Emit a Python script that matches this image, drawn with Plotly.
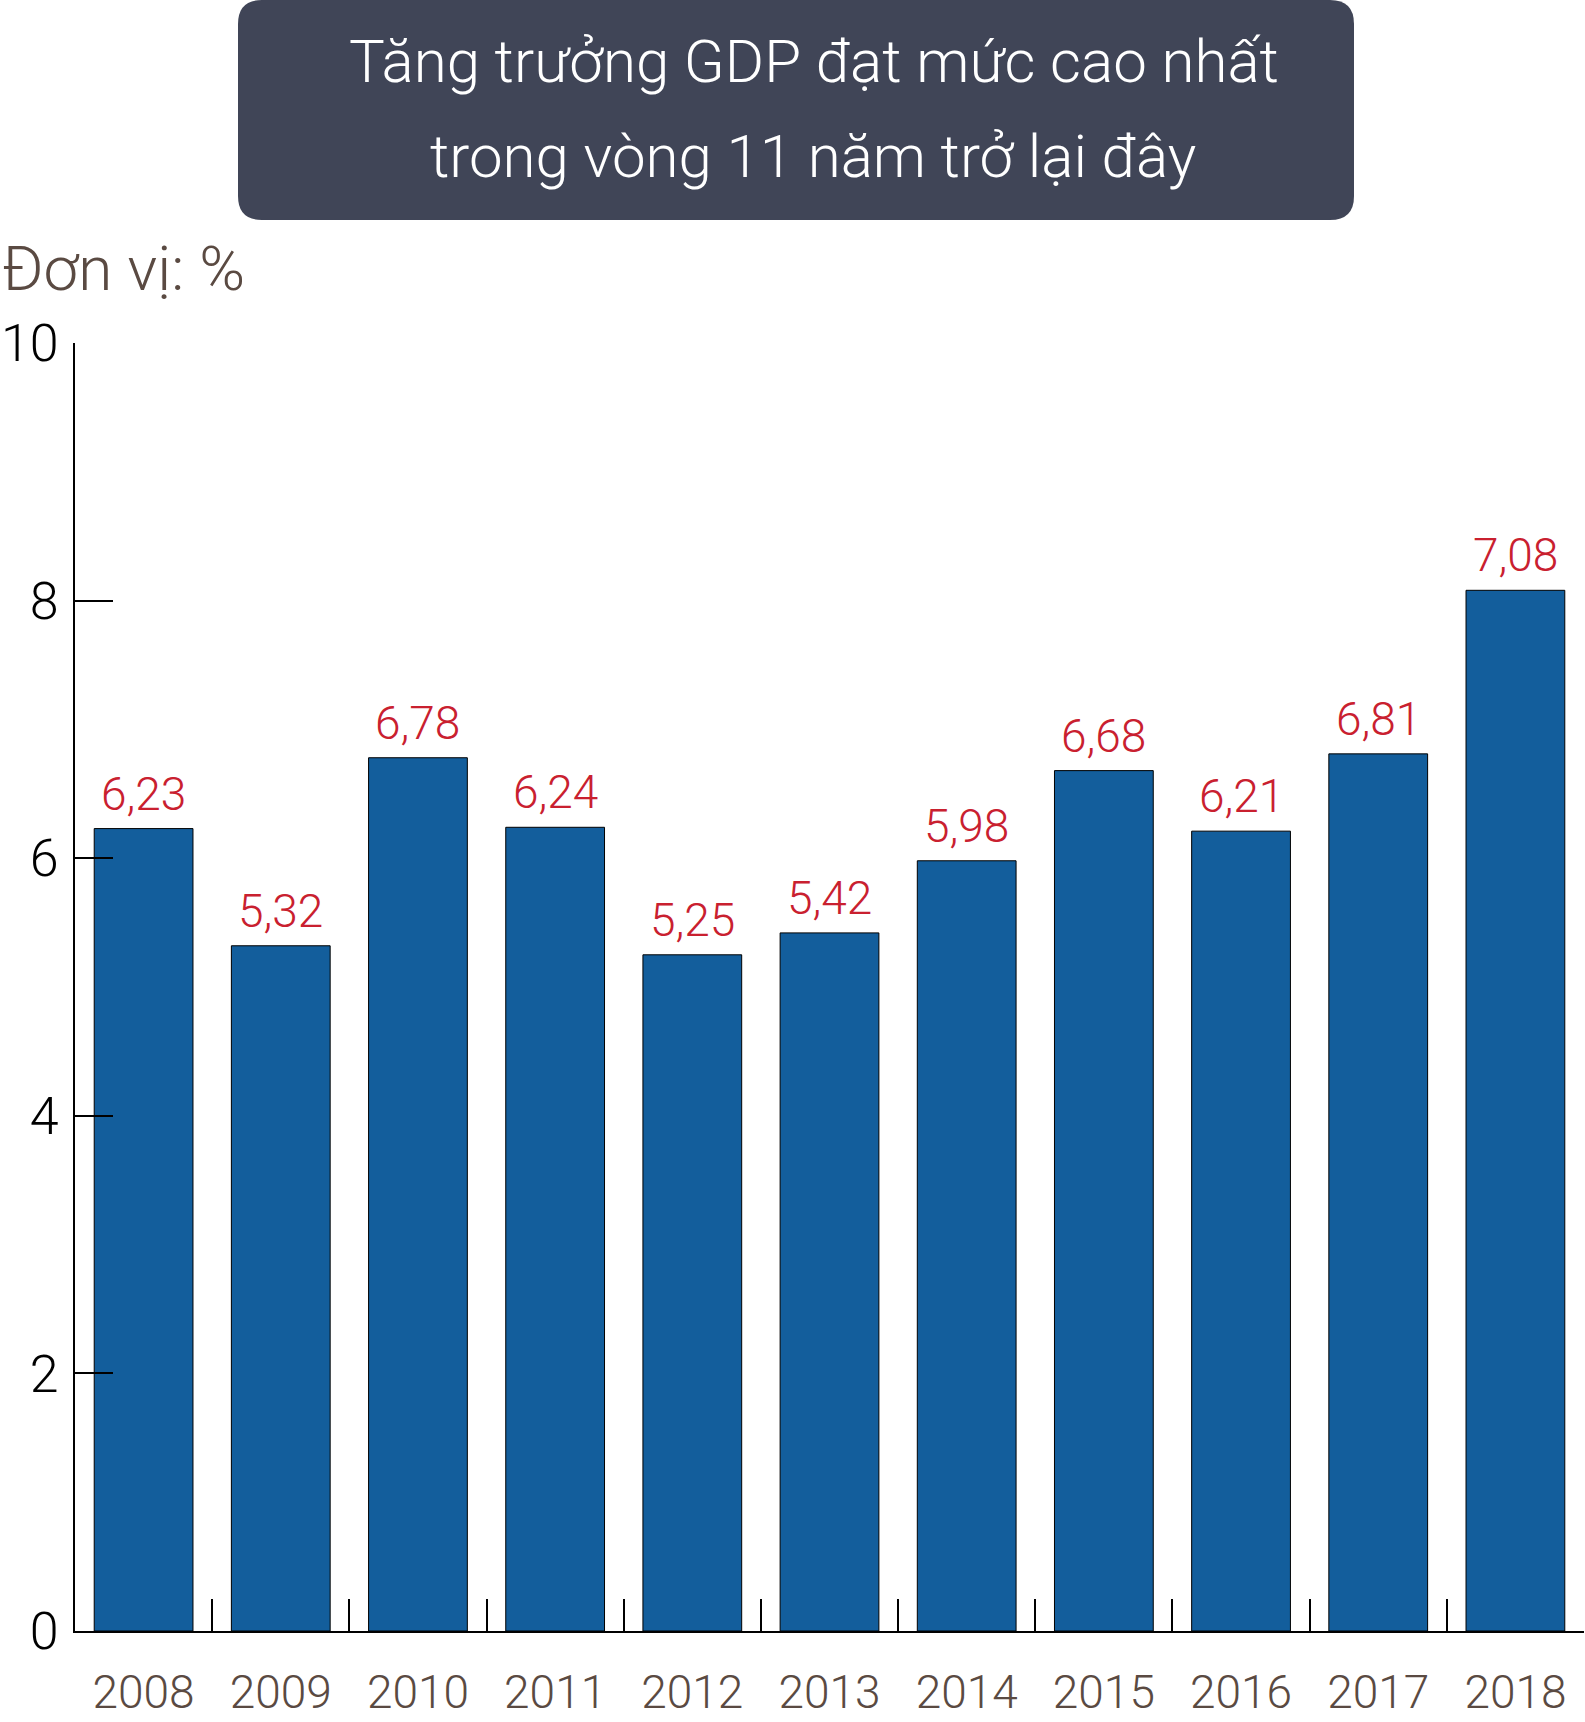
import plotly.graph_objects as go

years = ["2008", "2009", "2010", "2011", "2012", "2013", "2014", "2015", "2016", "2017", "2018"]
bar_heights = [6.23, 5.32, 6.78, 6.24, 5.25, 5.42, 5.98, 6.68, 6.21, 6.81, 8.08]
bar_labels = ["6,23", "5,32", "6,78", "6,24", "5,25", "5,42", "5,98", "6,68", "6,21", "6,81", "7,08"]
y_ticks = [0, 2, 4, 6, 8, 10]

FONT = "Roboto, sans-serif"
W, H = 1585, 1722
L, R, T, B = 75, 1, 343, 91
PW, PH = W - L - R, H - T - B

def px(x):
    return (x - L) / PW

def py(y):
    return (H - B - y) / PH

fig = go.Figure()
fig.add_trace(go.Bar(
    x=years, y=bar_heights,
    marker=dict(color="#135E9C", line=dict(color="#000000", width=1)),
    hoverinfo="skip",
))

for i, (h, lab) in enumerate(zip(bar_heights, bar_labels)):
    fig.add_annotation(x=i, y=h, text=lab, showarrow=False, yanchor="bottom",
                       yshift=6, font=dict(family=FONT, size=46, color="#C9202F", weight=300))

# title box with rounded corners (pixel coords converted to paper)
x0, x1, y0, y1, r = 238, 1354, 0, 220, 24
path = (f"M {px(x0 + r)},{py(y0)} L {px(x1 - r)},{py(y0)} "
        f"Q {px(x1)},{py(y0)} {px(x1)},{py(y0 + r)} L {px(x1)},{py(y1 - r)} "
        f"Q {px(x1)},{py(y1)} {px(x1 - r)},{py(y1)} L {px(x0 + r)},{py(y1)} "
        f"Q {px(x0)},{py(y1)} {px(x0)},{py(y1 - r)} L {px(x0)},{py(y0 + r)} "
        f"Q {px(x0)},{py(y0)} {px(x0 + r)},{py(y0)} Z")
fig.add_shape(type="path", path=path, xref="paper", yref="paper",
              fillcolor="#404557", line=dict(width=0), layer="above")

fig.add_annotation(xref="paper", yref="paper", x=px(814), y=py(62), text="Tăng trưởng GDP đạt mức cao nhất",
                   showarrow=False, xanchor="center", yanchor="middle",
                   font=dict(family=FONT, size=60, color="#FFFFFF", weight=300))
fig.add_annotation(xref="paper", yref="paper", x=px(813), y=py(156), text="trong vòng 11 năm trở lại đây",
                   showarrow=False, xanchor="center", yanchor="middle",
                   font=dict(family=FONT, size=60, color="#FFFFFF", weight=300))
fig.add_annotation(xref="paper", yref="paper", x=px(0), y=py(268), text="Đơn vị: %",
                   showarrow=False, xanchor="left", yanchor="middle",
                   font=dict(family=FONT, size=62, color="#5A4A42", weight=300))

fig.update_layout(
    width=W, height=H,
    margin=dict(l=L, r=R, t=T, b=B),
    paper_bgcolor="white", plot_bgcolor="white",
    bargap=0.28, showlegend=False,
    xaxis=dict(type="category", range=[-0.5, 10.5], tickson="boundaries", ticks="inside", ticklen=32,
               tickwidth=2, tickcolor="black", showline=True, linecolor="black", linewidth=2,
               showgrid=False, tickangle=0, automargin=False, ticklabelstandoff=20,
               tickfont=dict(family=FONT, size=46, color="#5A4A42", weight=300)),
    yaxis=dict(range=[0, 10], tickvals=y_ticks, ticks="inside", ticklen=38, tickwidth=2,
               tickcolor="black", showline=True, linecolor="black", linewidth=2,
               showgrid=False, zeroline=False, automargin=False, ticklabelstandoff=4,
               tickfont=dict(family=FONT, size=52, color="#000000", weight=300)),
)

fig.write_html("out.html")
